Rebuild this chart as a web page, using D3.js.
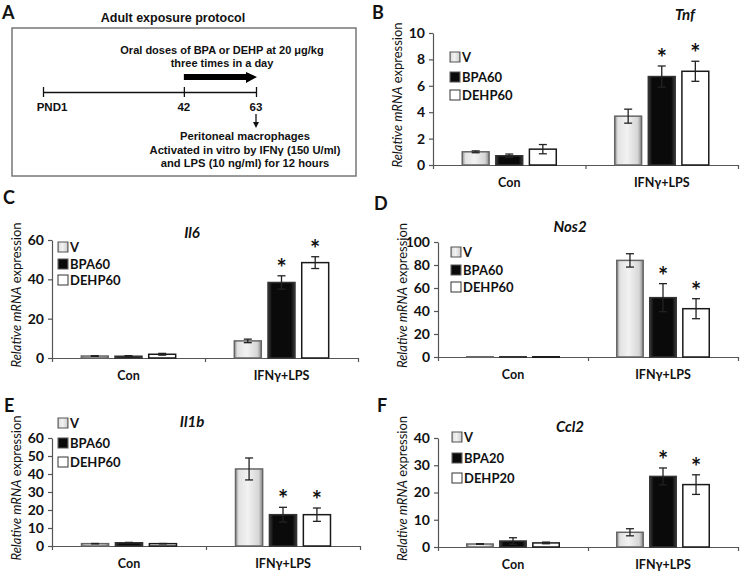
<!DOCTYPE html>
<html>
<head>
<meta charset="utf-8">
<script src="https://cdn.jsdelivr.net/npm/d3@7"></script>
<style>
  body { margin: 0; background: #fff; }
  svg { display: block; }
  .lbl { font-family: Lato, "Open Sans", sans-serif; }
  .proto { font-family: "Liberation Sans", Arial, sans-serif; font-weight: bold; }
</style>
</head>
<body>
<svg width="740" height="573"></svg>
<script>
// categories and series
var groups = ["Con", "IFNγ+LPS"];
var series60 = ["V", "BPA60", "DEHP60"];
var series20 = ["V", "BPA20", "DEHP20"];

// means [Con, IFNγ+LPS] x [V, BPA, DEHP], errors, significance
var tnfMean = [[1.0, 0.7, 1.2], [3.7, 6.7, 7.1]];
var tnfErr  = [[0.07, 0.13, 0.35], [0.53, 0.8, 0.76]];
var tnfStar = [[0, 0, 0], [0, 1, 1]];

var il6Mean = [[1.0, 0.9, 1.9], [8.7, 38.4, 48.5]];
var il6Err  = [[0.15, 0.3, 0.45], [0.9, 3.4, 3.0]];
var il6Star = [[0, 0, 0], [0, 1, 1]];

var nos2Mean = [[0.2, 0.2, 0.2], [84, 51.6, 42]];
var nos2Err  = [[0, 0, 0], [5.8, 12.2, 8.7]];
var nos2Star = [[0, 0, 0], [0, 1, 1]];

var il1bMean = [[1.3, 1.8, 1.3], [42.8, 17.4, 17.4]];
var il1bErr  = [[0.1, 0.2, 0.1], [6.1, 4.1, 3.7]];
var il1bStar = [[0, 0, 0], [0, 1, 1]];

var ccl2Mean = [[1.1, 2.2, 1.5], [5.4, 25.9, 22.9]];
var ccl2Err  = [[0.1, 1.2, 0.3], [1.3, 3.1, 3.6]];
var ccl2Star = [[0, 0, 0], [0, 1, 1]];

// tick labels
var tnfTicks = [0, 2, 4, 6, 8, 10];
var il6Ticks = [0, 20, 40, 60];
var nos2Ticks = [0, 20, 40, 60, 80, 100];
var il1bTicks = [0, 10, 20, 30, 40, 50, 60];
var ccl2Ticks = [0, 10, 20, 30, 40];

var svg = d3.select("svg");

// gradients
var defs = svg.append("defs");
var gV = defs.append("linearGradient").attr("id", "gradV");
[[0, "#8e8e8e"], [0.12, "#e2e2e2"], [0.45, "#f2f2f2"], [0.85, "#d6d6d6"], [1, "#8a8a8a"]].forEach(function (s) {
  gV.append("stop").attr("offset", s[0]).attr("stop-color", s[1]);
});
var gB = defs.append("linearGradient").attr("id", "gradB");
[[0, "#3a3a3a"], [0.15, "#0a0a0a"], [0.85, "#0a0a0a"], [1, "#3a3a3a"]].forEach(function (s) {
  gB.append("stop").attr("offset", s[0]).attr("stop-color", s[1]);
});
var fills = ["url(#gradV)", "url(#gradB)", "#fff"];
var strokes = ["#666", "#333", "#1a1a1a"];

function panel(p) {
  var x0 = d3.scaleBand().domain(groups).range([p.left, p.right]);
  var x1 = d3.scaleBand().domain(p.series).range([0, x0.bandwidth()])
    .paddingInner(0.2).paddingOuter(0.87);
  var y = d3.scaleLinear().domain([0, p.ticks[p.ticks.length - 1]]).range([p.bottom, p.top]);
  var g = svg.append("g");

  // y axis
  g.append("g")
    .attr("transform", "translate(" + p.left + ",0)")
    .call(d3.axisLeft(y).tickValues(p.ticks).tickSize(4).tickSizeOuter(0).tickPadding(4))
    .call(function (a) {
      a.selectAll("path, line").attr("stroke", "#555").attr("stroke-width", 1.2);
      a.selectAll("text").attr("class", "lbl").attr("font-size", 14)
        .attr("font-weight", "bold").attr("fill", "#111");
    });

  // x axis with boundary ticks
  var xb = d3.scaleLinear().domain([0, groups.length]).range([p.left, p.right]);
  g.append("g")
    .attr("transform", "translate(0," + p.bottom + ")")
    .call(d3.axisBottom(xb).tickValues([0, 1, 2]).tickFormat("").tickSize(4).tickSizeOuter(0))
    .call(function (a) { a.selectAll("path, line").attr("stroke", "#555").attr("stroke-width", 1.2); });

  g.selectAll(".cat").data(groups).enter().append("text")
    .attr("class", "lbl")
    .attr("x", function (d) { return x0(d) + x0.bandwidth() / 2; })
    .attr("y", p.bottom + 22)
    .attr("text-anchor", "middle")
    .attr("font-size", 12.5).attr("font-weight", "bold").attr("fill", "#111")
    .text(function (d) { return d; });

  // bars
  var rows = [];
  groups.forEach(function (grp, gi) {
    p.series.forEach(function (s, si) {
      rows.push({ g: grp, s: s, si: si, v: p.mean[gi][si], e: p.err[gi][si], star: p.star[gi][si] });
    });
  });
  var bx = function (d) { return x0(d.g) + x1(d.s); };

  g.selectAll(".bar").data(rows).enter().append("rect")
    .attr("x", bx)
    .attr("y", function (d) { return y(d.v); })
    .attr("width", x1.bandwidth())
    .attr("height", function (d) { return Math.max(0.5, y(0) - y(d.v)); })
    .attr("fill", function (d) { return fills[d.si]; })
    .attr("stroke", function (d) { return strokes[d.si]; })
    .attr("stroke-width", 1.5);

  var eb = rows.filter(function (d) { return d.e > 0; });
  var cx = function (d) { return bx(d) + x1.bandwidth() / 2; };
  g.selectAll(".err").data(eb).enter().append("line")
    .attr("x1", cx).attr("x2", cx)
    .attr("y1", function (d) { return y(d.v + d.e); })
    .attr("y2", function (d) { return y(Math.max(0, d.v - d.e)); })
    .attr("stroke", "#222").attr("stroke-width", 1.3);
  [1, -1].forEach(function (sgn) {
    g.selectAll(".cap" + sgn).data(eb).enter().append("line")
      .attr("x1", function (d) { return cx(d) - 4; })
      .attr("x2", function (d) { return cx(d) + 4; })
      .attr("y1", function (d) { return y(Math.max(0, d.v + sgn * d.e)); })
      .attr("y2", function (d) { return y(Math.max(0, d.v + sgn * d.e)); })
      .attr("stroke", "#222").attr("stroke-width", 1.3);
  });

  g.selectAll(".star").data(rows.filter(function (d) { return d.star; })).enter().append("text")
    .attr("class", "lbl")
    .attr("x", cx)
    .attr("y", function (d) { return y(d.v + d.e) + 1; })
    .attr("text-anchor", "middle")
    .attr("font-size", 24).attr("font-weight", "bold").attr("fill", "#111")
    .text("*");

  // legend
  var lg = g.selectAll(".leg").data(p.series).enter().append("g")
    .attr("transform", function (d, i) { return "translate(" + p.legX + "," + p.legY[i] + ")"; });
  lg.append("rect")
    .attr("x", 0).attr("y", -5).attr("width", 10).attr("height", 10)
    .attr("fill", function (d, i) { return i === 0 ? "url(#gradV)" : fills[i]; })
    .attr("stroke", function (d, i) { return i === 2 ? "#333" : "#555"; })
    .attr("stroke-width", 1);
  lg.append("text")
    .attr("class", "lbl")
    .attr("x", 12).attr("y", 5)
    .attr("font-size", 13).attr("font-weight", "bold").attr("fill", "#111")
    .text(function (d) { return d; });

  // title
  g.append("text")
    .attr("class", "lbl")
    .attr("x", p.titleX).attr("y", p.titleY + 5)
    .attr("text-anchor", "middle")
    .attr("font-size", 15).attr("font-weight", "bold").attr("font-style", "italic")
    .attr("fill", "#111")
    .text(p.title);

  // y label
  var yl = g.append("text")
    .attr("class", "lbl")
    .attr("transform", "translate(" + (p.left - 31) + "," + ((p.top + p.bottom) / 2 - 4) + ") rotate(-90)")
    .attr("text-anchor", "middle")
    .attr("font-size", 13).attr("fill", "#111");
  yl.append("tspan").attr("font-style", "italic").text("Relative mRNA");
  yl.append("tspan").text(" expression");

  // panel letter
  svg.append("text")
    .attr("class", "lbl")
    .attr("x", p.letterX).attr("y", p.letterY)
    .attr("font-size", 18).attr("font-weight", "bold").attr("fill", "#111")
    .text(p.letter);
}

panel({ letter: "B", letterX: 372, letterY: 19, title: "Tnf", titleX: 685, titleY: 15,
  series: series60, mean: tnfMean, err: tnfErr, star: tnfStar, ticks: tnfTicks,
  left: 433, right: 738, top: 33, bottom: 165, legX: 450, legY: [57, 77, 95] });
panel({ letter: "C", letterX: 3, letterY: 204, title: "Il6", titleX: 192, titleY: 233,
  series: series60, mean: il6Mean, err: il6Err, star: il6Star, ticks: il6Ticks,
  left: 52, right: 358, top: 240, bottom: 358, legX: 58, legY: [247, 264, 280] });
panel({ letter: "D", letterX: 374, letterY: 210, title: "Nos2", titleX: 570, titleY: 227,
  series: series60, mean: nos2Mean, err: nos2Err, star: nos2Star, ticks: nos2Ticks,
  left: 438, right: 738, top: 242, bottom: 357, legX: 451, legY: [252, 270, 287] });
panel({ letter: "E", letterX: 4, letterY: 412, title: "Il1b", titleX: 192, titleY: 422,
  series: series60, mean: il1bMean, err: il1bErr, star: il1bStar, ticks: il1bTicks,
  left: 52, right: 360, top: 438, bottom: 546, legX: 58, legY: [423, 443, 462] });
panel({ letter: "F", letterX: 377, letterY: 412, title: "Ccl2", titleX: 570, titleY: 427,
  series: series20, mean: ccl2Mean, err: ccl2Err, star: ccl2Star, ticks: ccl2Ticks,
  left: 438, right: 738, top: 438, bottom: 547, legX: 452, legY: [437, 458, 478] });

// panel A: protocol timeline
var days = ["PND1", "42", "63"];
var dayVals = [1, 42, 63];
var t = d3.scaleLinear().domain([1, 63]).range([43, 256]);
var A = svg.append("g");
A.append("text").attr("class", "lbl").attr("x", 2).attr("y", 19)
  .attr("font-size", 18).attr("font-weight", "bold").attr("fill", "#111").text("A");
A.append("text").attr("class", "proto").attr("x", 173).attr("y", 22)
  .attr("text-anchor", "middle").attr("font-size", 12.5).attr("fill", "#111")
  .text("Adult exposure protocol");
A.append("rect").attr("x", 12).attr("y", 28).attr("width", 344).attr("height", 148)
  .attr("fill", "none").attr("stroke", "#777").attr("stroke-width", 1.5);

A.append("g").attr("transform", "translate(0,92)")
  .call(d3.axisBottom(t).tickValues(dayVals).tickFormat("").tickSize(5).tickSizeOuter(0))
  .call(function (a) {
    a.select("path").attr("stroke", "#111").attr("stroke-width", 1.3);
    a.selectAll("line").attr("stroke", "#111").attr("stroke-width", 1.3).attr("y1", -5);
  });
A.selectAll(".day").data(dayVals).enter().append("text")
  .attr("class", "proto")
  .attr("x", function (d, i) { return t(d) + (i === 0 ? 9 : 0); })
  .attr("y", 111)
  .attr("text-anchor", "middle").attr("font-size", 11.5).attr("fill", "#111")
  .text(function (d, i) { return days[i]; });

// thick arrow 42 -> 63
var x42 = t(42), x63 = t(63);
A.append("path")
  .attr("d", "M" + x42 + ",74 L" + (x63 - 10) + ",74 L" + (x63 - 10) + ",72 L" + (x63 + 1) + ",77 L" + (x63 - 10) + ",83 L" + (x63 - 10) + ",80 L" + x42 + ",80 Z")
  .attr("fill", "#000");
A.append("text").attr("class", "proto").attr("x", 222).attr("y", 54)
  .attr("text-anchor", "middle").attr("font-size", 11).attr("fill", "#111")
  .text("Oral doses of BPA or DEHP at 20 μg/kg");
A.append("text").attr("class", "proto").attr("x", 222).attr("y", 67)
  .attr("text-anchor", "middle").attr("font-size", 11).attr("fill", "#111")
  .text("three times in a day");

// down arrow
A.append("line").attr("x1", x63).attr("x2", x63).attr("y1", 114).attr("y2", 123)
  .attr("stroke", "#111").attr("stroke-width", 1.3);
A.append("path")
  .attr("d", "M" + (x63 - 3) + ",122 L" + (x63 + 3) + ",122 L" + x63 + ",128 Z")
  .attr("fill", "#111");

var notes = ["Peritoneal macrophages", "Activated in vitro by IFNγ (150 U/ml)", "and LPS (10 ng/ml) for 12 hours"];
A.selectAll(".note").data(notes).enter().append("text")
  .attr("class", "proto")
  .attr("x", 245)
  .attr("y", function (d, i) { return 140 + i * 13.5; })
  .attr("text-anchor", "middle").attr("font-size", 11.2).attr("fill", "#111")
  .text(function (d) { return d; });
</script>
</body>
</html>
